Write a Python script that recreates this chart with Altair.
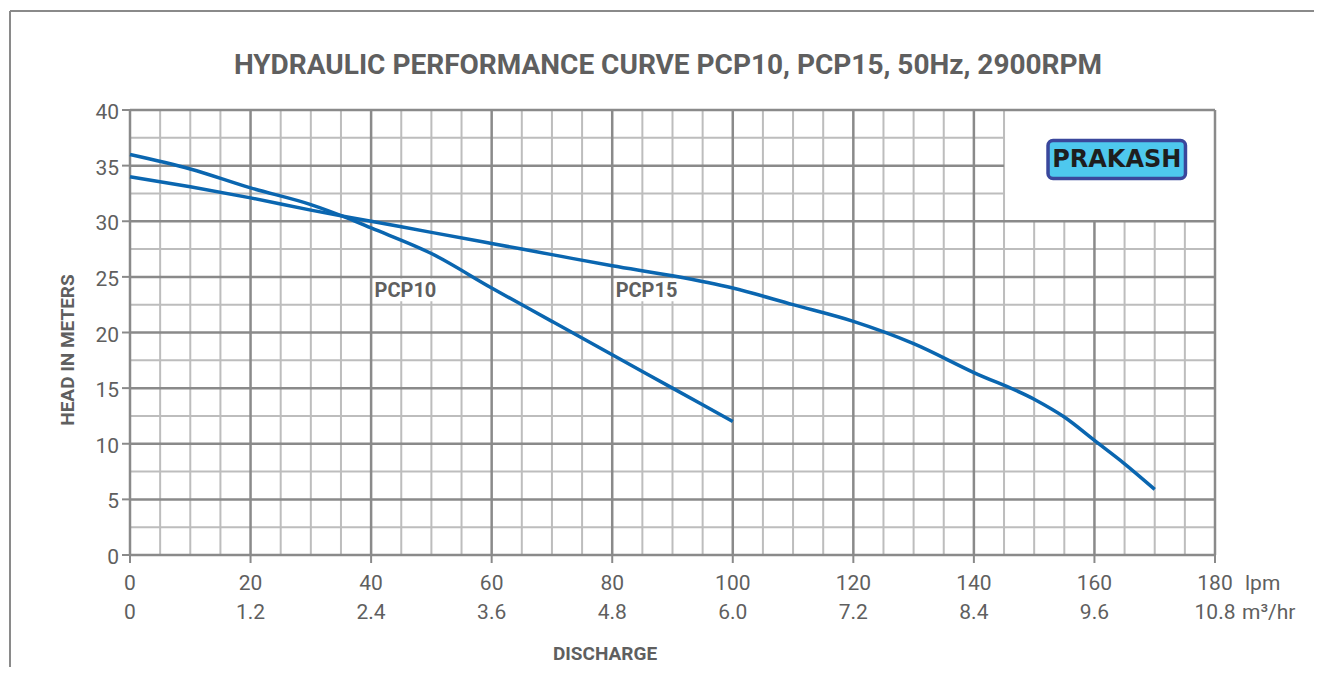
import altair as alt
import pandas as pd

# ---------------- data ----------------
pcp10_q = [0, 10, 20, 30, 36, 40, 50, 60, 70, 80, 90, 100]
pcp10_h = [36, 34.7, 33.0, 31.5, 30.3, 29.4, 27.1, 24.0, 21.0, 18.0, 15.0, 12.0]

pcp15_q = [0, 10, 20, 30, 40, 50, 60, 70, 80, 90, 100, 110, 120, 130, 140, 150, 155, 160, 165, 170]
pcp15_h = [34.0, 33.1, 32.1, 31.0, 30.0, 29.0, 28.0, 27.0, 26.0, 25.1, 24.0, 22.5, 21.0, 19.0, 16.4, 14.0, 12.4, 10.3, 8.2, 5.9]

lpm_ticks = [0, 20, 40, 60, 80, 100, 120, 140, 160, 180]
m3_labels = ["0", "1.2", "2.4", "3.6", "4.8", "6.0", "7.2", "8.4", "9.6", "10.8"]
head_ticks = [0, 5, 10, 15, 20, 25, 30, 35, 40]

series_names = ["PCP10", "PCP15"]
label_q = [40.4, 80.4]
label_h = [23.8, 23.8]

title_text = "HYDRAULIC PERFORMANCE CURVE PCP10, PCP15, 50Hz, 2900RPM"
x_title = "DISCHARGE"
y_title = "HEAD IN METERS"
logo_text = "PRAKASH"

# ---------------- style ----------------
W, H = 1085, 445
XMAX, YMAX = 180, 40
LOGO_X0, LOGO_Y0 = 145, 30   # white logo panel in the upper-right corner
NARROW = "'Roboto', 'Liberation Sans', sans-serif"
TXT = "#5f5f5f"
MAJOR = "#8a8a8a"
MINOR = "#bdbdbd"
BLUE = "#0a66b0"

xs = alt.Scale(domain=[0, XMAX], nice=False, zero=False)
ys = alt.Scale(domain=[0, YMAX], nice=False, zero=False)
X = lambda f: alt.X(f, scale=xs, axis=None)
Y = lambda f: alt.Y(f, scale=ys, axis=None)

# ---------------- grid tables ----------------
vmin, vmaj, hmin, hmaj = [], [], [], []
for q in range(5, XMAX, 5):
    top = YMAX if q <= LOGO_X0 else LOGO_Y0
    (vmaj if q % 20 == 0 else vmin).append({"x": q, "y": 0, "y2": top})
vmaj.append({"x": 0, "y": 0, "y2": YMAX})
vmaj.append({"x": XMAX, "y": 0, "y2": YMAX})
for i in range(0, 17):
    h = i * 2.5
    right = LOGO_X0 if (LOGO_Y0 < h < YMAX) else XMAX
    (hmaj if i % 2 == 0 else hmin).append({"y": h, "x": 0, "x2": right})


def vrules(rows, color, width):
    return alt.Chart(pd.DataFrame(rows)).mark_rule(color=color, strokeWidth=width).encode(
        x=X("x:Q"), y=Y("y:Q"), y2="y2:Q")


def hrules(rows, color, width):
    return alt.Chart(pd.DataFrame(rows)).mark_rule(color=color, strokeWidth=width).encode(
        y=Y("y:Q"), x=X("x:Q"), x2="x2:Q")


grid = vrules(vmin, MINOR, 2) + hrules(hmin, MINOR, 2) + vrules(vmaj, MAJOR, 2.5) + hrules(hmaj, MAJOR, 2.5)

# ---------------- axis ticks & labels ----------------
xt_df = pd.DataFrame({"q": lpm_ticks, "lpm": [str(v) for v in lpm_ticks], "m3": m3_labels})
yt_df = pd.DataFrame({"h": head_ticks, "lab": [str(v) for v in head_ticks]})

xticks = alt.Chart(xt_df).mark_rule(color=MAJOR, strokeWidth=2).encode(
    x=X("q:Q"), y=alt.value(H), y2=alt.value(H + 8))
yticks = alt.Chart(yt_df).mark_rule(color=MAJOR, strokeWidth=2).encode(
    y=Y("h:Q"), x=alt.value(-8), x2=alt.value(0))
ylabels = alt.Chart(yt_df).mark_text(align="right", baseline="middle", font=NARROW, fontSize=21,
                                     color=TXT, dy=3).encode(
    y=Y("h:Q"), x=alt.value(-11), text="lab:N")
row1 = alt.Chart(xt_df).mark_text(baseline="middle", font=NARROW, fontSize=21, color=TXT).encode(
    x=X("q:Q"), y=alt.value(H + 29), text="lpm:N")
row2 = alt.Chart(xt_df).mark_text(baseline="middle", font=NARROW, fontSize=21, color=TXT).encode(
    x=X("q:Q"), y=alt.value(H + 58), text="m3:N")

unit1 = alt.Chart(pd.DataFrame({"q": [XMAX], "t": ["lpm"]})).mark_text(
    align="left", baseline="middle", font=NARROW, fontSize=21, color=TXT, dx=30).encode(
    x=X("q:Q"), y=alt.value(H + 29), text="t:N")
unit2 = alt.Chart(pd.DataFrame({"q": [XMAX], "t": ["m³/hr"]})).mark_text(
    align="left", baseline="middle", font=NARROW, fontSize=21, color=TXT, dx=27).encode(
    x=X("q:Q"), y=alt.value(H + 58), text="t:N")

# ---------------- curves ----------------
curve_df = pd.concat([
    pd.DataFrame({"q": pcp10_q, "h": pcp10_h, "s": "PCP10"}),
    pd.DataFrame({"q": pcp15_q, "h": pcp15_h, "s": "PCP15"}),
])
curves = alt.Chart(curve_df).mark_line(color=BLUE, strokeWidth=3.5, interpolate="monotone").encode(
    x=X("q:Q"), y=Y("h:Q"), detail="s:N")

# ---------------- curve labels ----------------
lab_df = pd.DataFrame({"q": label_q, "h": label_h, "name": series_names})
lab_df["q2"] = lab_df["q"] + 9.9
lab_df["hlo"] = lab_df["h"] - 1.0
lab_df["hhi"] = lab_df["h"] + 1.05
lab_bg = alt.Chart(lab_df).mark_rect(color="white").encode(
    x=X("q:Q"), x2="q2:Q", y=Y("hlo:Q"), y2="hhi:Q")
lab_txt = alt.Chart(lab_df).mark_text(align="left", baseline="middle", font=NARROW, fontWeight="bold",
                                      fontSize=20, color=TXT, dx=1, dy=1).encode(
    x=X("q:Q"), y=Y("h:Q"), text="name:N")

# ---------------- titles ----------------
txt_df = pd.DataFrame({"t": [title_text]})
title = alt.Chart(txt_df).mark_text(font=NARROW, fontWeight="bold", fontSize=28, color=TXT,
                                    baseline="middle").encode(
    x=alt.value(538), y=alt.value(-44), text="t:N")
xt = alt.Chart(pd.DataFrame({"t": [x_title]})).mark_text(font=NARROW, fontWeight="bold", fontSize=19,
                                                          color=TXT, baseline="middle").encode(
    x=alt.value(475), y=alt.value(H + 99), text="t:N")
yt = alt.Chart(pd.DataFrame({"t": [y_title]})).mark_text(font=NARROW, fontWeight="bold", fontSize=19,
                                                          color=TXT, baseline="middle", angle=270).encode(
    x=alt.value(-62), y=alt.value(240), text="t:N")

# ---------------- logo ----------------
logo_df = pd.DataFrame({"x": [152.3], "x2": [175.1], "y": [33.85], "y2": [37.25], "cx": [163.7], "cy": [35.55],
                        "t": [logo_text]})
logo_box = alt.Chart(logo_df).mark_rect(fill="#4ec8ee", stroke="#3a479c", strokeWidth=3.5,
                                        cornerRadius=5).encode(
    x=X("x:Q"), x2="x2:Q", y=Y("y:Q"), y2="y2:Q")
logo_txt = alt.Chart(logo_df).mark_text(font="'DejaVu Sans', sans-serif", fontWeight="bold", fontSize=24,
                                        color="#1e1e1e", baseline="middle").encode(
    x=X("cx:Q"), y=Y("cy:Q"), text="t:N")

# ---------------- outer frame ----------------
frame_top = alt.Chart(txt_df).mark_rule(color=MAJOR, strokeWidth=2).encode(
    x=alt.value(-120), x2=alt.value(W + 300), y=alt.value(-99))
frame_left = alt.Chart(txt_df).mark_rule(color=MAJOR, strokeWidth=2).encode(
    x=alt.value(-120), y=alt.value(-99), y2=alt.value(H + 300))

chart = alt.layer(
    frame_top, frame_left, grid, xticks, yticks, lab_bg, curves, lab_txt, ylabels, row1, row2,
    unit1, unit2, title, xt, yt, logo_box, logo_txt,
).properties(
    width=W, height=H,
    background="white",
    padding={"left": 122, "top": 102, "right": 99, "bottom": 112},
    autosize=alt.AutoSizeParams(type="none"),
).configure_view(stroke=None)

chart.save("out.html", embed_options={"renderer": "svg", "actions": False})
